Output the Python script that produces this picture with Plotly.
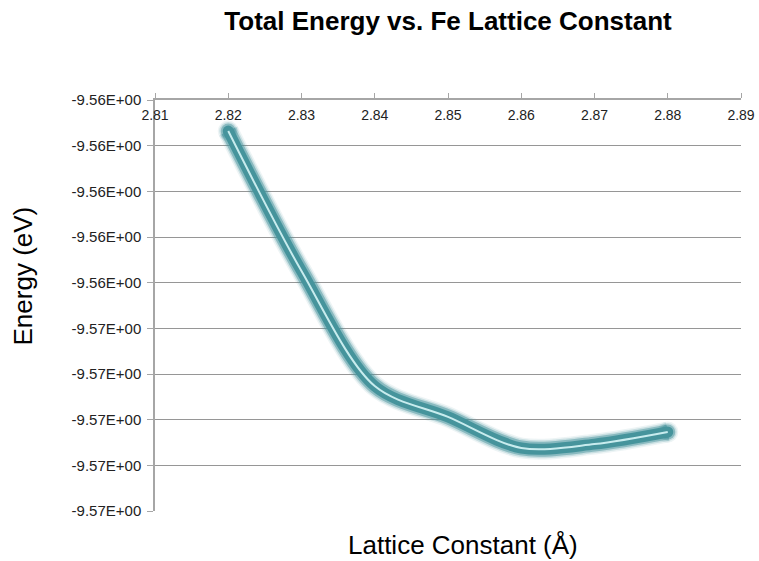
import plotly.graph_objects as go

lattice = [2.82, 2.83, 2.84, 2.85, 2.86, 2.87, 2.88]
energy = [-9.55736, -9.56349, -9.56853, -9.56988, -9.57124, -9.57107, -9.57054]

x_ticks = [2.81, 2.82, 2.83, 2.84, 2.85, 2.86, 2.87, 2.88, 2.89]
y_ticks = [-9.556, -9.558, -9.560, -9.562, -9.564, -9.566, -9.568, -9.570, -9.572, -9.574]
y_tick_labels = ["-9.56E+00", "-9.56E+00", "-9.56E+00", "-9.56E+00", "-9.56E+00",
                 "-9.57E+00", "-9.57E+00", "-9.57E+00", "-9.57E+00", "-9.57E+00"]

FONT = "Liberation Sans, Arial, sans-serif"
fig = go.Figure()

glow = [(21, "rgba(74,150,158,0.10)"), (18, "rgba(74,150,158,0.22)"),
        (15, "rgba(74,150,158,0.5)"), (11, "rgba(70,148,156,1)")]
for w, c in glow:
    fig.add_trace(go.Scatter(x=lattice, y=energy, mode="lines",
                             line=dict(color=c, width=w, shape="spline", smoothing=0.9),
                             hoverinfo="skip", showlegend=False))
    fig.add_trace(go.Scatter(x=[lattice[0], lattice[-1]], y=[energy[0], energy[-1]], mode="markers",
                             marker=dict(color=c, size=w, line=dict(width=0)),
                             hoverinfo="skip", showlegend=False))
fig.add_trace(go.Scatter(x=lattice, y=energy, mode="lines",
                         line=dict(color="rgb(200,236,238)", width=2, shape="spline", smoothing=0.9),
                         showlegend=False))

fig.update_layout(
    width=759, height=561,
    margin=dict(l=155, r=18, t=100, b=50, autoexpand=False),
    paper_bgcolor="white", plot_bgcolor="white",
    font=dict(family=FONT, color="#222222"),
    title=dict(text="<b>Total Energy vs. Fe Lattice Constant</b>", x=0.5, xref="paper",
               xanchor="center", y=0.962, yanchor="middle",
               font=dict(size=26, color="black", family=FONT)),
    xaxis=dict(side="top", range=[2.81, 2.89], tickvals=x_ticks, tickformat=".2f",
               showgrid=False, zeroline=False, showline=True, linecolor="#a6a6a6", linewidth=1.5,
               ticks="outside", ticklen=5, tickcolor="#a6a6a6", ticklabelposition="inside",
               ticklabeloverflow="allow", ticklabelstandoff=10, automargin=False,
               tickfont=dict(size=14, color="#222222")),
    yaxis=dict(range=[-9.574, -9.556], tickvals=y_ticks, ticktext=y_tick_labels,
               showgrid=True, gridcolor="#969696", gridwidth=1, zeroline=False,
               showline=True, linecolor="#a6a6a6", linewidth=1.5,
               ticks="outside", ticklen=6, tickcolor="#a6a6a6", ticklabelstandoff=3,
               ticklabeloverflow="allow", automargin=False,
               tickfont=dict(size=15, color="#222222")),
)
fig.add_annotation(text="Lattice Constant (Å)", xref="paper", yref="paper", x=0.526, y=-0.083,
                   showarrow=False, xanchor="center", yanchor="middle",
                   font=dict(size=26, color="black", family=FONT))
fig.add_annotation(text="Energy (eV)", xref="paper", yref="paper", x=-0.226, y=0.572,
                   textangle=-90, showarrow=False, xanchor="center", yanchor="middle",
                   font=dict(size=26, color="black", family=FONT))

fig.write_html("out.html")
